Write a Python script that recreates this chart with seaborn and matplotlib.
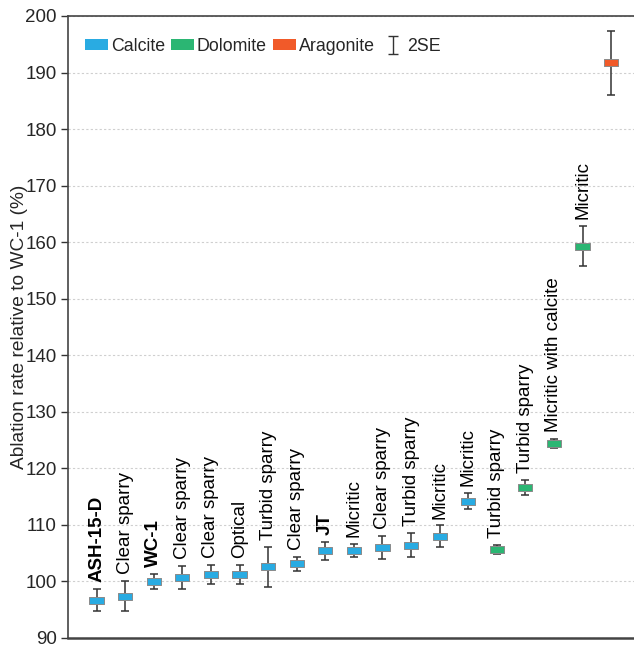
import numpy as np
import pandas as pd
import matplotlib
matplotlib.use("Agg")
import matplotlib.pyplot as plt
from matplotlib.path import Path
from matplotlib.patches import Patch
from matplotlib.lines import Line2D
import seaborn as sns

# ---- data ----
labels = ["ASH-15-D", "Clear sparry", "WC-1", "Clear sparry", "Clear sparry", "Optical",
          "Turbid sparry", "Clear sparry", "JT", "Micritic", "Clear sparry", "Turbid sparry",
          "Micritic", "Micritic", "Turbid sparry", "Turbid sparry", "Micritic with calcite",
          "Micritic", ""]
minerals = ["Calcite"] * 14 + ["Dolomite"] * 4 + ["Aragonite"]
values = [96.7, 97.4, 100.0, 100.7, 101.2, 101.2, 102.6, 103.1, 105.4, 105.5, 106.0, 106.4,
          108.0, 114.2, 105.7, 116.6, 124.4, 159.3, 191.7]
errors = [1.9, 2.6, 1.4, 2.1, 1.7, 1.7, 3.5, 1.2, 1.6, 1.2, 2.1, 2.1, 1.9, 1.4, 0.8, 1.4,
          0.8, 3.5, 5.6]
bold_labels = ["ASH-15-D", "WC-1", "JT"]
mineral_order = ["Calcite", "Dolomite", "Aragonite"]
mineral_colors = ["#29abe2", "#2bb673", "#f15a29"]

df = pd.DataFrame({"label": labels, "mineral": minerals, "value": values, "err": errors})
df["pos"] = np.arange(len(df))

sns.set_style("white")
plt.rcParams["font.family"] = ["Liberation Sans", "DejaVu Sans"]
plt.rcParams["font.size"] = 13.5

fig = plt.figure(figsize=(6.34, 6.45), dpi=100)
ax = fig.add_axes([0.1073, 0.0109, 0.8927, 0.9643])

# grid
ax.set_axisbelow(True)
ax.yaxis.grid(True, linestyle=(0, (2, 2)), color="#cfcfcf", linewidth=0.8)
ax.xaxis.grid(False)

# error bars
ax.errorbar(df["pos"], df["value"], yerr=df["err"], fmt="none", ecolor="#333333",
            elinewidth=1.1, capsize=2.8, capthick=1.1, zorder=2)

# rectangular markers
rect = Path([(-1, -0.5), (1, -0.5), (1, 0.5), (-1, 0.5), (-1, -0.5)],
            [Path.MOVETO, Path.LINETO, Path.LINETO, Path.LINETO, Path.CLOSEPOLY])
sns.scatterplot(data=df, x="pos", y="value", hue="mineral", hue_order=mineral_order,
                palette=mineral_colors, marker=rect, s=105, edgecolor="#8a8a8a",
                linewidth=0.7, legend=False, ax=ax, zorder=3)

# labels above error bars
for _, r in df.iterrows():
    if not r["label"]:
        continue
    ax.annotate(r["label"], xy=(r["pos"], r["value"] + r["err"]), xytext=(0, 5),
                textcoords="offset points", rotation=90, ha="center", va="bottom",
                fontsize=13.5, fontweight="bold" if r["label"] in bold_labels else "normal",
                color="black")

# axes
ax.set_xlim(-1.0, 18.8)
ax.set_ylim(90, 200)
ax.set_yticks(np.arange(90, 201, 10))
ax.set_xticks([])
ax.set_xlabel("")
ax.set_ylabel("Ablation rate relative to WC-1 (%)", fontsize=13.8)
ax.yaxis.set_label_coords(-0.071, 0.5)
ax.tick_params(axis="y", direction="out", length=5, width=1.0, color="#333333",
               labelsize=13.5, pad=3, left=True)
for side in ["left", "top", "bottom"]:
    ax.spines[side].set_visible(True)
    ax.spines[side].set_color("#444444")
ax.spines["left"].set_linewidth(1.2)
ax.spines["top"].set_linewidth(1.2)
ax.spines["bottom"].set_linewidth(1.8)
ax.spines["right"].set_visible(False)

# legend
ibeam = Path([(-0.25, -0.5), (0.25, -0.5), (0, -0.5), (0, 0.5), (-0.25, 0.5), (0.25, 0.5)],
             [Path.MOVETO, Path.LINETO, Path.MOVETO, Path.LINETO, Path.MOVETO, Path.LINETO])
handles = [Patch(facecolor=c, edgecolor="none", label=m)
           for m, c in zip(mineral_order, mineral_colors)]
handles.append(Line2D([], [], linestyle="none", marker=ibeam, markersize=13,
                      markerfacecolor="none", markeredgecolor="#333333",
                      markeredgewidth=1.0, label="2SE"))
ax.legend(handles=handles, loc="upper left", bbox_to_anchor=(0.008, 0.985), ncol=4,
          frameon=False, handlelength=1.3, handleheight=0.55, handletextpad=0.15,
          columnspacing=0.35, fontsize=12.8, borderaxespad=0.3)

fig.savefig("out.png", dpi=100)
